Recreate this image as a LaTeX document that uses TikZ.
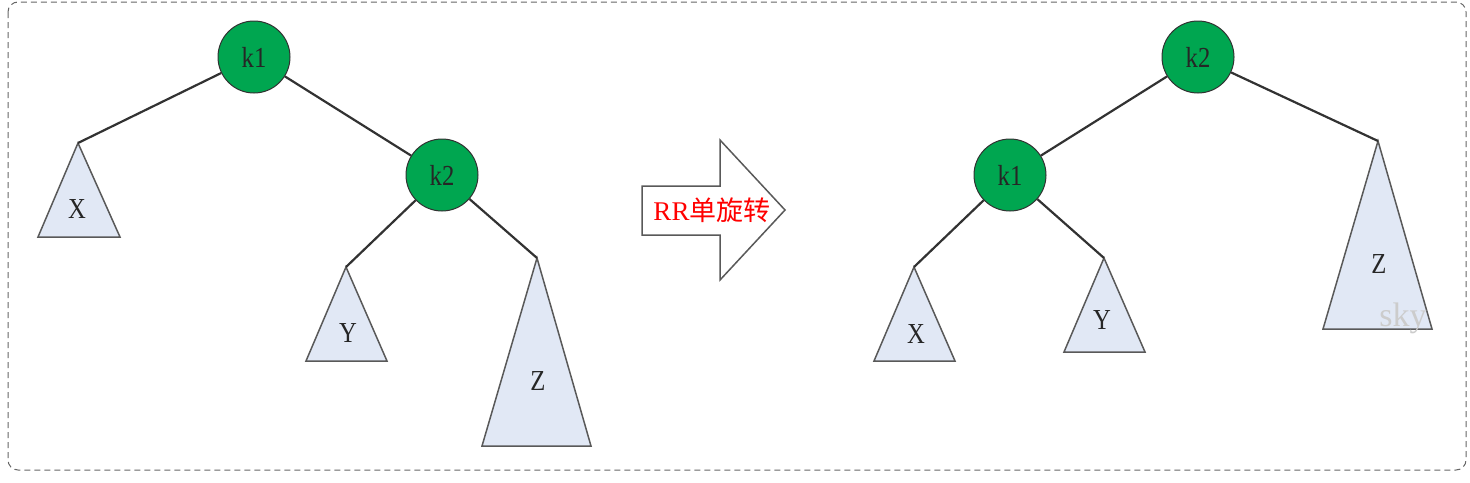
\documentclass[tikz,border=0pt]{standalone}
\usepackage{fontspec}
\setmainfont{Liberation Serif}
\newfontfamily\labfont[FakeStretch=0.85]{Liberation Serif}
\newfontfamily\cjk{Noto Sans CJK SC}
\definecolor{nodegreen}{RGB}{0,166,80}
\definecolor{trifill}{RGB}{225,232,245}
\definecolor{edgecol}{RGB}{50,50,50}
\begin{document}
\begin{tikzpicture}[x=1pt,y=-1pt,
  keynode/.style={circle,draw=edgecol,line width=1pt,fill=nodegreen,minimum size=72pt,inner sep=0pt,font=\labfont\fontsize{29}{32}\selectfont,text=black!85},
  tri/.style={draw=black!65,line width=1.5pt,fill=trifill,line join=miter},
  trilabel/.style={font=\labfont\fontsize{29}{32}\selectfont,text=black!85},
  edge/.style={draw=edgecol,line width=2.2pt},
  frame/.style={draw=black!60,dashed,dash pattern=on 6pt off 4pt,line width=1pt,rounded corners=10pt}
]
\useasboundingbox (0,0) rectangle (1470,482);
\draw[frame] (8,2) rectangle (1466,470);

% left tree
\node[keynode] (Lk1) at (254,57) {k1};
\node[keynode] (Lk2) at (442,175) {k2};
\coordinate (LXa) at (78,143);
\coordinate (LYa) at (346,267);
\coordinate (LZa) at (537,258);
\path[tri] (LXa) -- (38,237) -- (120,237) -- cycle;
\path[tri] (LYa) -- (306,361) -- (387,361) -- cycle;
\path[tri] (LZa) -- (482,446) -- (591,446) -- cycle;
\node[trilabel] (LX) at (77,209) {X};
\node[trilabel] (LY) at (348,333) {Y};
\node[trilabel] (LZ) at (538,381) {Z};
\draw[edge] (Lk1) -- (LXa);
\draw[edge] (Lk1) -- (Lk2);
\draw[edge] (Lk2) -- (LYa);
\draw[edge] (Lk2) -- (LZa);

% arrow
\draw[draw=black!65,line width=1.5pt,fill=white,line join=miter]
  (642,186) -- (720,186) -- (720,140) -- (785,210) -- (720,280) -- (720,235) -- (642,235) -- cycle;
\node[text=red,font=\fontsize{27}{30}\selectfont] (lbl) at (712,210) {RR{\cjk 单旋转}};

% right tree
\node[keynode] (Rk2) at (1198,57) {k2};
\node[keynode] (Rk1) at (1010,175) {k1};
\coordinate (RXa) at (914,267);
\coordinate (RYa) at (1104,258);
\coordinate (RZa) at (1378,141);
\path[tri] (RXa) -- (874,361) -- (955,361) -- cycle;
\path[tri] (RYa) -- (1064,352) -- (1145,352) -- cycle;
\path[tri] (RZa) -- (1323,329) -- (1432,329) -- cycle;
\node[trilabel] (RX) at (916,334) {X};
\node[trilabel] (RY) at (1102,320) {Y};
\node[trilabel] (RZ) at (1379,264) {Z};
\draw[edge] (Rk2) -- (Rk1);
\draw[edge] (Rk2) -- (RZa);
\draw[edge] (Rk1) -- (RXa);
\draw[edge] (Rk1) -- (RYa);

\node[text=black!20,font=\fontsize{34}{36}\selectfont] (sky) at (1403,318) {sky};
\end{tikzpicture}
\end{document}
